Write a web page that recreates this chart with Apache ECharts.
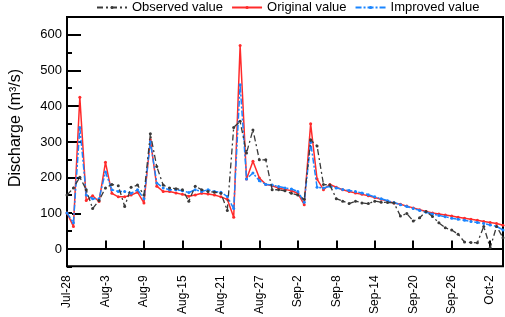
<!DOCTYPE html>
<html>
<head>
<meta charset="utf-8">
<script src="https://cdn.jsdelivr.net/npm/echarts@6/dist/echarts.min.js"></script>
<style>
  html, body { margin: 0; padding: 0; background: #fff; }
  #main { width: 505px; height: 317px; }
</style>
</head>
<body>
<div id="main"></div>
<script>
var dates = [
  'Jul-28', 'Jul-29', 'Jul-30', 'Jul-31',
  'Aug-1', 'Aug-2', 'Aug-3', 'Aug-4', 'Aug-5', 'Aug-6', 'Aug-7', 'Aug-8', 'Aug-9', 'Aug-10',
  'Aug-11', 'Aug-12', 'Aug-13', 'Aug-14', 'Aug-15', 'Aug-16', 'Aug-17', 'Aug-18', 'Aug-19', 'Aug-20',
  'Aug-21', 'Aug-22', 'Aug-23', 'Aug-24', 'Aug-25', 'Aug-26', 'Aug-27', 'Aug-28', 'Aug-29', 'Aug-30', 'Aug-31',
  'Sep-1', 'Sep-2', 'Sep-3', 'Sep-4', 'Sep-5', 'Sep-6', 'Sep-7', 'Sep-8', 'Sep-9', 'Sep-10',
  'Sep-11', 'Sep-12', 'Sep-13', 'Sep-14', 'Sep-15', 'Sep-16', 'Sep-17', 'Sep-18', 'Sep-19', 'Sep-20',
  'Sep-21', 'Sep-22', 'Sep-23', 'Sep-24', 'Sep-25', 'Sep-26', 'Sep-27', 'Sep-28', 'Sep-29', 'Sep-30',
  'Oct-1', 'Oct-2', 'Oct-3', 'Oct-4'
];

var observed = [
  150, 170, 200, 165, 112, 135, 170, 180, 176, 118,
  172, 178, 150, 322, 230, 178, 170, 168, 165, 133,
  175, 165, 160, 158, 155, 107, 340, 357, 268, 333,
  249, 249, 165, 165, 162, 155, 150, 138, 305, 288,
  180, 178, 140, 133, 126, 133, 128, 126, 133, 130,
  129, 128, 91, 98, 77, 86, 104, 90, 72, 58,
  52, 40, 18, 17, 16, 62, 2, 62, 30
];

var original = [
  100, 62, 425, 135, 148, 132, 242, 155, 145, 145,
  150, 158, 128, 305, 175, 160, 160, 156, 152, 147,
  150, 155, 153, 150, 145, 138, 88, 570, 195, 245,
  198, 180, 176, 170, 166, 162, 155, 123, 350, 195,
  165, 180, 172, 165, 160, 156, 152, 148, 143, 138,
  133, 128, 124, 119, 114, 109, 104, 100, 97, 94,
  91, 88, 85, 82, 79, 76, 73, 70, 65
];

var improved = [
  100, 72, 340, 150, 140, 140, 215, 165, 160, 160,
  155, 165, 140, 300, 184, 170, 165, 165, 162, 157,
  165, 160, 165, 160, 158, 146, 112, 460, 195, 212,
  190, 180, 178, 174, 170, 167, 160, 130, 298, 172,
  170, 175, 170, 166, 163, 160, 156, 151, 145, 140,
  134, 129, 123, 118, 112, 107, 102, 97, 93, 89,
  85, 82, 79, 76, 73, 70, 66, 62, 52
];

var font = 'Liberation Sans, Arial, sans-serif';

var chart = echarts.init(document.getElementById('main'));

var option = {
  animation: false,
  textStyle: { fontFamily: font, color: '#000' },
  legend: {
    left: 96,
    top: 1,
    padding: 0,
    itemWidth: 30,
    itemHeight: 4,
    itemGap: 8,
    textStyle: { fontFamily: font, fontSize: 13, color: '#000' },
    data: ['Observed value', 'Original value', 'Improved value']
  },
  grid: [
    { left: 67, right: 2, top: 17, bottom: 50, show: true, borderColor: '#000', borderWidth: 2 },
    // second grid only carries the long ticks and labels at 0, 100, ... 600
    { left: 67, right: 2, top: 17, bottom: 68 }
  ],
  xAxis: [
    {
      type: 'category',
      gridIndex: 0,
      data: dates,
      boundaryGap: false,
      axisLine: { lineStyle: { color: '#000', width: 2 } },
      axisTick: { inside: true, interval: 5, length: 8, lineStyle: { color: '#000', width: 2 } },
      axisLabel: { interval: 5, rotate: 90, fontSize: 12, margin: 9, color: '#000', fontFamily: font },
      splitLine: { show: false }
    },
    { type: 'value', gridIndex: 1, show: false }
  ],
  yAxis: [
    {
      type: 'value',
      gridIndex: 0,
      min: -50,
      max: 650,
      interval: 50,
      axisLine: { show: true, lineStyle: { color: '#000', width: 2 } },
      axisTick: { show: true, inside: true, length: 5, lineStyle: { color: '#000', width: 2 } },
      axisLabel: { show: false },
      splitLine: { show: false }
    },
    {
      type: 'value',
      gridIndex: 1,
      min: 0,
      max: 650,
      interval: 100,
      name: 'Discharge (m³/s)',
      nameLocation: 'middle',
      nameGap: 48,
      nameTextStyle: { fontSize: 16, color: '#000', fontFamily: font, padding: [0, 0, 0, 10] },
      axisLine: { show: false },
      axisTick: { show: true, inside: true, length: 9, lineStyle: { color: '#000', width: 2 } },
      axisLabel: {
        fontSize: 13, color: '#000', margin: 10, fontFamily: font,
        formatter: function (v) { return v % 100 === 0 ? v : ''; }
      },
      splitLine: { show: false }
    }
  ],
  series: [
    {
      name: 'Observed value',
      type: 'line',
      data: observed,
      z: 4,
      symbol: 'circle',
      symbolSize: 3,
      color: '#3a3a3a',
      lineStyle: { color: '#3a3a3a', width: 1.3, type: [6, 3, 2, 3] },
      itemStyle: { color: '#3a3a3a' }
    },
    {
      name: 'Original value',
      type: 'line',
      data: original,
      z: 2,
      symbol: 'circle',
      symbolSize: 3,
      color: '#ff2b2b',
      lineStyle: { color: '#ff2b2b', width: 1.5 },
      itemStyle: { color: '#ff2b2b' }
    },
    {
      name: 'Improved value',
      type: 'line',
      data: improved,
      z: 3,
      symbol: 'circle',
      symbolSize: 3,
      color: '#1a85ff',
      lineStyle: { color: '#1a85ff', width: 1.5, type: [6, 2, 2, 2] },
      itemStyle: { color: '#1a85ff' }
    }
  ]
};

chart.setOption(option);
</script>
</body>
</html>
